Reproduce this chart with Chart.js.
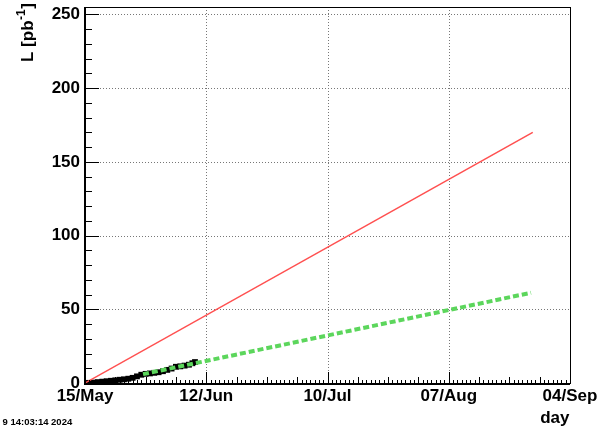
<!DOCTYPE html>
<html><head><meta charset="utf-8">
<script src="https://cdn.jsdelivr.net/npm/chart.js@4"></script>
<style>html,body{margin:0;padding:0;background:#fff;overflow:hidden}canvas{display:block}</style>
</head><body>
<canvas id="c" width="601" height="429"></canvas>
<script>
// ---- data ----
const dateLabels = ['15/May', '12/Jun', '10/Jul', '07/Aug', '04/Sep'];
const deliveredDays = [0, 1, 2, 3, 4, 5, 6, 7, 8, 9, 10, 11, 12, 13, 14, 15, 16, 17, 18, 19, 20, 21, 22, 23, 24, 24.8, 25.4];
const deliveredLumi = [0, 0.1, 0.3, 0.6, 0.9, 1.2, 1.5, 1.8, 2.2, 2.5, 2.9, 3.5, 4.5, 5.6, 6.2, 6.5, 6.9, 7.3, 8.0, 8.9, 9.8, 11.0, 11.3, 11.8, 12.4, 13.4, 14.2];
const targetDays = [0, 103.4];
const targetLumi = [0, 170];
const projectionDays = [13.4, 103.0];
const projectionLumi = [6.0, 61.2];
const xRange = [0, 112];
const yRange = [0, 255];
const xTitle = 'day';
const yTitleMain = 'L [pb';
const yTitleSup = '-1';
const yTitleEnd = ']';
const stampText = '9 14:03:14 2024';

const FONT = '"Liberation Sans", Arial, Helvetica, sans-serif';
const toXY = (xs, ys) => xs.map((x, i) => ({x: x, y: ys[i]}));

const rootPlugin = {
  id: 'rootStyle',
  beforeDatasetsDraw(chart) {
    const {ctx, chartArea: a, scales: {x, y}} = chart;
    ctx.save();
    ctx.strokeStyle = '#777';
    ctx.lineWidth = 1;
    ctx.setLineDash([1, 2]);
    for (let d = 28; d < xRange[1]; d += 28) {
      const px = Math.round(x.getPixelForValue(d)) + 0.5;
      ctx.beginPath(); ctx.moveTo(px, a.top); ctx.lineTo(px, a.bottom); ctx.stroke();
    }
    for (let v = 50; v <= 250; v += 50) {
      const py = Math.round(y.getPixelForValue(v)) + 0.5;
      ctx.beginPath(); ctx.moveTo(a.left, py); ctx.lineTo(a.right, py); ctx.stroke();
    }
    ctx.restore();
  },
  afterDatasetsDraw(chart) {
    const {ctx, chartArea: a, scales: {x, y}} = chart;
    ctx.save();
    ctx.strokeStyle = '#000';
    ctx.setLineDash([]);
    // frame
    ctx.lineWidth = 1;
    ctx.strokeRect(Math.round(a.left) + 0.5, Math.round(a.top) + 0.5, Math.round(a.right - a.left), Math.round(a.bottom - a.top));
    ctx.lineWidth = 2;
    ctx.beginPath(); ctx.moveTo(a.left, a.top); ctx.lineTo(a.left, a.bottom + 1); ctx.lineTo(a.right, a.bottom + 1); ctx.stroke();
    // x ticks
    ctx.lineWidth = 1;
    for (let d = 1; d < xRange[1]; d++) {
      const px = Math.round(x.getPixelForValue(d)) + 0.5;
      const len = d % 28 === 0 ? 11 : (d % 7 === 0 ? 6 : 3);
      ctx.beginPath(); ctx.moveTo(px, a.bottom); ctx.lineTo(px, a.bottom - len); ctx.stroke();
    }
    // y ticks
    for (let v = 10; v <= 250; v += 10) {
      const py = Math.round(y.getPixelForValue(v)) + 0.5;
      const len = v % 50 === 0 ? 14 : 7;
      ctx.beginPath(); ctx.moveTo(a.left, py); ctx.lineTo(a.left + len, py); ctx.stroke();
    }
    // titles
    ctx.fillStyle = '#000';
    ctx.textBaseline = 'alphabetic';
    ctx.font = 'bold 17px ' + FONT;
    ctx.textAlign = 'right';
    ctx.fillText(xTitle, a.right - 0.5, 423);
    ctx.save();
    ctx.translate(33, 62);
    ctx.rotate(-Math.PI / 2);
    ctx.textAlign = 'left';
    ctx.font = 'bold 17px ' + FONT;
    ctx.fillText(yTitleMain, 0, 0);
    let w = ctx.measureText(yTitleMain).width;
    ctx.font = 'bold 12px ' + FONT;
    ctx.fillText(yTitleSup, w + 0.5, -8);
    w += ctx.measureText(yTitleSup).width + 1;
    ctx.font = 'bold 17px ' + FONT;
    ctx.fillText(yTitleEnd, w, 0);
    ctx.restore();
    ctx.textAlign = 'left';
    ctx.font = 'bold 9.5px ' + FONT;
    ctx.fillText(stampText, 2.5, 424.5);
    ctx.restore();
  }
};

new Chart(document.getElementById('c'), {
  type: 'line',
  data: {
    datasets: [
      {label: 'projection', data: toXY(projectionDays, projectionLumi), borderColor: 'rgb(92,214,92)', borderWidth: 4, borderDash: [6, 3], pointRadius: 0, order: 0},
      {label: 'target', data: toXY(targetDays, targetLumi), borderColor: 'rgb(255,80,80)', borderWidth: 1.5, pointRadius: 0, order: 1},
      {label: 'delivered', data: toXY(deliveredDays, deliveredLumi), borderColor: '#000', backgroundColor: '#000', borderWidth: 3, pointRadius: 2, pointStyle: 'rect', order: 2}
    ]
  },
  options: {
    responsive: false,
    animation: false,
    devicePixelRatio: 1,
    layout: {padding: {top: 6, right: 31, left: 0, bottom: 0}},
    plugins: {legend: {display: false}, tooltip: {enabled: false}},
    elements: {line: {tension: 0}},
    scales: {
      x: {
        type: 'linear', min: xRange[0], max: xRange[1],
        grid: {display: false, drawTicks: false},
        border: {display: false},
        ticks: {
          stepSize: 28, autoSkip: false, maxRotation: 0, padding: 3, color: '#000',
          font: {family: FONT, size: 17, weight: 'bold'},
          callback: (v) => (v % 28 === 0 ? dateLabels[v / 28] : '')
        },
        afterFit: (s) => { s.height = 46; s.paddingLeft = 0; s.paddingRight = 0; }
      },
      y: {
        type: 'linear', min: yRange[0], max: yRange[1],
        grid: {display: false, drawTicks: false},
        border: {display: false},
        ticks: {
          stepSize: 50, includeBounds: false, padding: 5, color: '#000',
          font: {family: FONT, size: 17, weight: 'bold'}
        },
        afterFit: (s) => { s.width = 85; s.paddingTop = 0; s.paddingBottom = 0; }
      }
    }
  },
  plugins: [rootPlugin]
});
</script>
</body></html>
